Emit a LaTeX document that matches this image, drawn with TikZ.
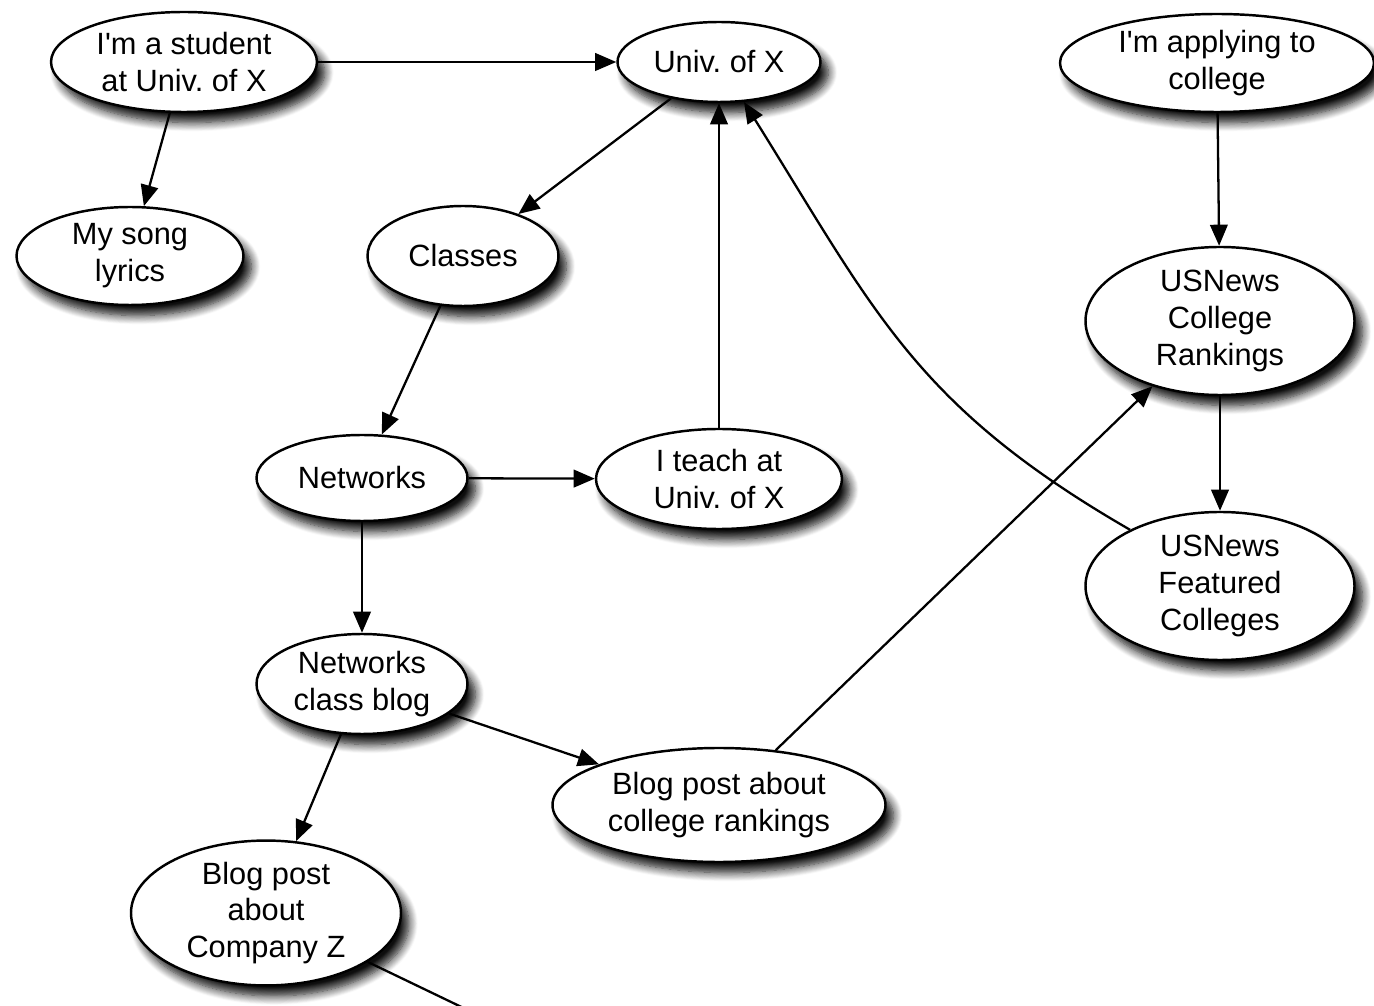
\documentclass[tikz,border=0pt]{standalone}
\usepackage{fontspec}
\setmainfont{Liberation Sans}
\usepackage{tikz}
\usetikzlibrary{shapes.geometric, arrows.meta, shadows.blur}
\frenchspacing

\begin{document}
\begin{tikzpicture}[
    x=0.02cm, y=-0.02cm,
    font=\fontsize{17.5}{21}\selectfont,
    topic/.style 2 args={
        ellipse, draw=black, line width=1.4pt, fill=white,
        align=center, inner sep=0pt,
        minimum width=#1*0.02cm, minimum height=#2*0.02cm,
        blur shadow={shadow xshift=4.5pt, shadow yshift=-6pt, shadow blur radius=5pt,
            shadow blur steps=10, shadow opacity=95}
    },
    arrow/.style={-{Triangle[length=12pt,width=10pt]}, line width=1.3pt, color=black}
]
\clip (0,0) rectangle (1374,1006);

% Nodes
\node[topic={266}{100}] (student) at (184,62) {I\textquotesingle m a student\\at Univ. of X};
\node[topic={203}{80}] (univ) at (719,62) {Univ. of X};
\node[topic={314}{98}] (applying) at (1217,63) {I\textquotesingle m applying to\\college};
\node[topic={227}{98}] (song) at (130,256) {My song\\lyrics};
\node[topic={191}{100}] (classes) at (463,256) {Classes};
\node[topic={269}{148}] (rankings) at (1220,321) {USNews\\College\\Rankings};
\node[topic={211}{86}] (networks) at (362,478) {Networks};
\node[topic={246}{100}] (teach) at (719,479) {I teach at\\Univ. of X};
\node[topic={269}{148}] (featured) at (1220,586) {USNews\\Featured\\Colleges};
\node[topic={211}{100}] (blog) at (362,684) {Networks\\class blog};
\node[topic={333}{114}] (post) at (719,805) {Blog post about\\college rankings};
\node[topic={270}{132}] (company) at (266,913) {Blog post\\about\\Company Z};
\coordinate (offpage) at (580,1064);

% Paths
\draw[arrow] (student) -- (univ);
\draw[arrow] (student) -- (song);
\draw[arrow] (univ) -- (classes);
\draw[arrow] (classes) -- (networks);
\draw[arrow] (networks) -- (teach);
\draw[arrow] (teach) -- (univ);
\draw[arrow] (networks) -- (blog);
\draw[arrow] (blog) -- (company);
\draw[arrow] (blog) -- (post);
\draw[arrow] (post) -- (rankings);
\draw[arrow] (applying) -- (rankings);
\draw[arrow] (rankings) -- (featured);
\draw[arrow] (featured.148) to[out=150, in=-58, looseness=1.1] (univ);
\draw[arrow] (company) -- (offpage);

\end{tikzpicture}
\end{document}
